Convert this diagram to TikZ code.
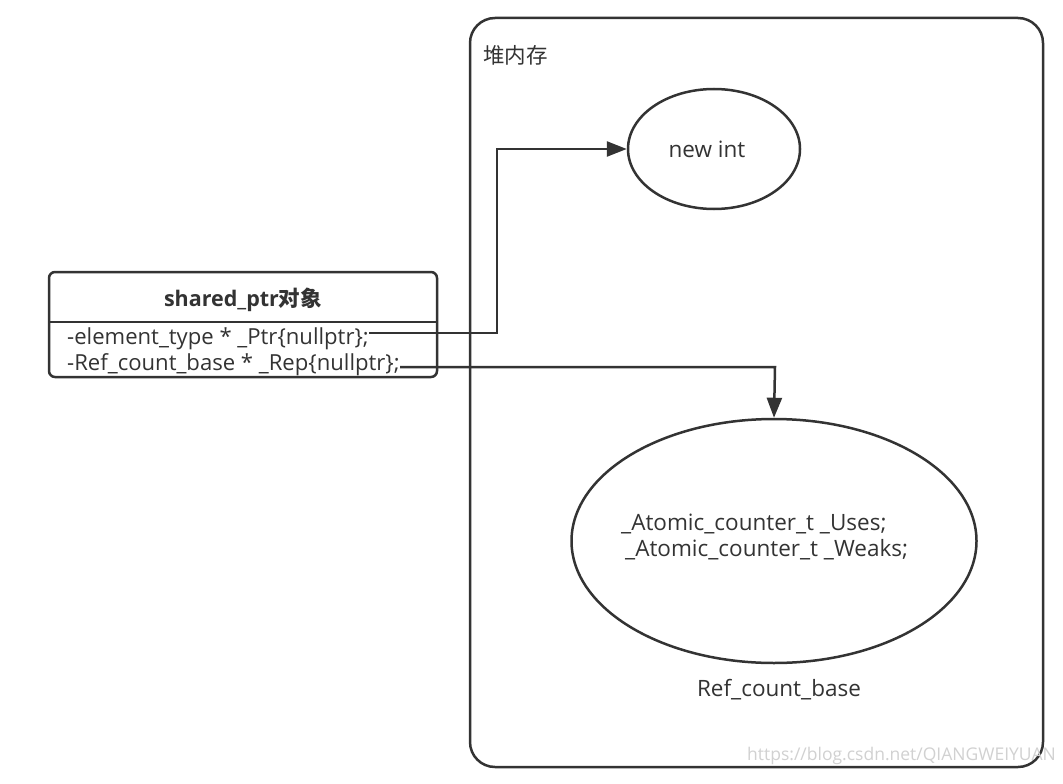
\documentclass[tikz,border=0pt]{standalone}
\usepackage{fontspec}
\setmainfont{Open Sans}
\newfontfamily\cjk{Noto Sans CJK SC}
\usetikzlibrary{arrows.meta,shapes.geometric}
\definecolor{ink}{HTML}{333333}
\tikzset{
  line/.style={draw=ink,line width=2.5pt},
  conn/.style={draw=ink,line width=2.5pt,-{Triangle[length=20pt,width=15pt]}},
  txt/.style={text=ink,font=\fontsize{22.5}{26}\selectfont,inner sep=0pt},
  fld/.style={text=ink,font=\fontsize{22.1}{25}\selectfont,inner sep=0pt,anchor=west},
  ell/.style={ellipse,draw=ink,line width=2.5pt,inner sep=0pt},
}
\begin{document}
\begin{tikzpicture}[x=1pt,y=-1pt]
\useasboundingbox[fill=white] (0,0) rectangle (1063,784);
% heap container
\draw[line,rounded corners=25pt] (470,18) rectangle (1043,767);
\node[txt,anchor=west,font=\cjk\fontsize{21.5}{24}\selectfont] (heaplbl) at (483,55) {堆内存};
% new int
\node[ell,minimum width=172pt,minimum height=120pt] (newint) at (714,149) {};
\node[txt] (newinttxt) at (707,149) {new int};
% ref count base ellipse
\node[ell,minimum width=405pt,minimum height=244pt] (rcb) at (774,541) {};
\node[txt,anchor=west] (uses) at (621,524) {\_Atomic\_counter\_t \_Uses;};
\node[txt,anchor=west] (weaks) at (625,550) {\_Atomic\_counter\_t \_Weaks;};
\node[txt] (rcblbl) at (779,690) {Ref\_count\_base};
% class box
\draw[line,rounded corners=6pt] (49,272) rectangle (437,377);
\coordinate (divL) at (49,322);
\coordinate (divR) at (437,322);
\draw[line] (divL) -- (divR);
\node[txt,font=\bfseries\fontsize{21.5}{24}\selectfont] (title) at (243,300) {shared\_ptr{\cjk\bfseries 对象}};
\node[fld] (f1) at (67,339) {-element\_type * \_Ptr\{nullptr\};};
\node[fld] (f2) at (67,365) {-Ref\_count\_base * \_Rep\{nullptr\};};
% connectors
\coordinate (s1) at (369,333);
\coordinate (s2) at (400,367);
\draw[conn] (s1) -- (497,333) -- (497,149) -- (newint.west);
\draw[conn] (s2) -- (775,367) -- (rcb.north);
% watermark
\node[text=black!18,font=\fontsize{17.5}{20}\selectfont,anchor=east,inner sep=0pt] (wm) at (1056,756) {https://blog.csdn.net/QIANGWEIYUAN};
\end{tikzpicture}
\end{document}
